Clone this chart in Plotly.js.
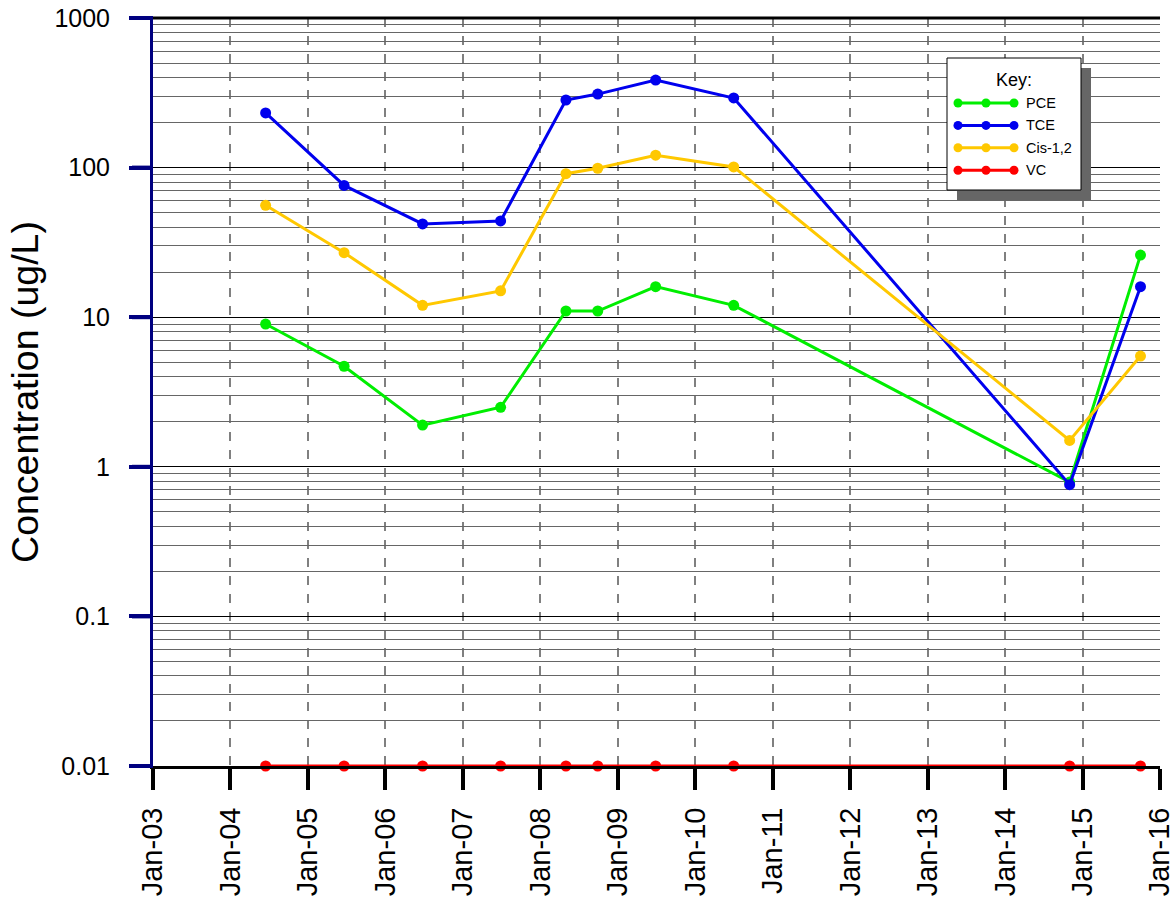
<!DOCTYPE html>
<html>
<head>
<meta charset="utf-8">
<script src="https://cdn.plot.ly/plotly-3.0.1.min.js"></script>
<style>html,body{margin:0;padding:0;background:#fff;}#chart{width:1175px;height:905px;}</style>
</head>
<body>
<div id="chart"></div>
<script>
const dates = ['2004-06-15','2005-06-20','2006-06-25','2007-06-28','2008-05-01','2008-09-28','2009-06-28','2010-07-01','2014-11-01','2015-10-01'];
const pce  = [9.0, 4.7, 1.9, 2.5, 11, 11, 16, 12, 0.79, 26];
const tce  = [232, 76, 42, 44, 283, 310, 385, 292, 0.76, 16];
const cis  = [56, 27, 12, 15, 91, 99, 121, 101, 1.5, 5.5];
const vc   = [0.01, 0.01, 0.01, 0.01, 0.01, 0.01, 0.01, 0.01, 0.01, 0.01];
const seriesNames = ['PCE','TCE','Cis-1,2','VC'];
const seriesColors = ['#00ee00','#0000ee','#ffc800','#ff0000'];
const yTickVals = [0.01, 0.1, 1, 10, 100, 1000];
const yTickText = ['0.01','0.1','1','10','100','1000'];
const legendTitle = 'Key:';

const FONT = 'Arial, "Liberation Sans", sans-serif';
const W = 1175, H = 905, ML = 153, MR = 15, MT = 18, MB = 139;
const PW = W - ML - MR, PH = H - MT - MB;
const px = X => (X - ML) / PW;          // page pixel -> paper x
const py = Y => (H - MB - Y) / PH;      // page pixel -> paper y

const allSeries = [pce, tce, cis, vc];
const traces = allSeries.map((ys, i) => ({
  x: dates, y: ys, name: seriesNames[i], type: 'scatter', mode: 'lines+markers',
  line: {color: seriesColors[i], width: 3},
  marker: {color: seriesColors[i], size: 11},
  cliponaxis: false, showlegend: false
}));

const minorVals = [];
for (let e = -2; e < 3; e++) for (let m = 2; m <= 9; m++) minorVals.push(m * Math.pow(10, e));
traces.unshift({x: [dates[0]], y: [1], yaxis: 'y2', type: 'scatter', mode: 'markers',
  marker: {opacity: 0}, showlegend: false, hoverinfo: 'skip'});

const shapes = [];
const annotations = [];

// top border
shapes.push({type: 'line', xref: 'paper', yref: 'paper', x0: 0, x1: 1, y0: 1, y1: 1,
  line: {color: '#000', width: 3}, layer: 'above'});
// navy y ticks
yTickVals.forEach(v => {
  const yy = (Math.log10(v) + 2) / 5;
  shapes.push({type: 'line', xref: 'paper', yref: 'paper', x0: px(132), x1: 0, y0: yy, y1: yy,
    line: {color: '#000080', width: 4}, layer: 'above'});
});

// key box (shadow + box)
shapes.push({type: 'rect', xref: 'paper', yref: 'paper', layer: 'above',
  x0: px(957), x1: px(1091), y0: py(200), y1: py(68), fillcolor: '#666', line: {width: 0}});
shapes.push({type: 'rect', xref: 'paper', yref: 'paper', layer: 'above',
  x0: px(947), x1: px(1081), y0: py(190), y1: py(58), fillcolor: '#fff', line: {color: '#000', width: 1}});
annotations.push({xref: 'paper', yref: 'paper', x: px(1014), y: py(80), text: legendTitle,
  showarrow: false, xanchor: 'center', yanchor: 'middle', font: {size: 18, family: FONT, color: '#000'}});
seriesNames.forEach((nm, i) => {
  const Y = 103 + i * 22.4;
  shapes.push({type: 'line', xref: 'paper', yref: 'paper', layer: 'above',
    x0: px(958), x1: px(1014), y0: py(Y), y1: py(Y), line: {color: seriesColors[i], width: 3}});
  [958, 986, 1014].forEach(X => {
    shapes.push({type: 'circle', xref: 'paper', yref: 'paper', layer: 'above',
      xsizemode: 'pixel', ysizemode: 'pixel', xanchor: px(X), yanchor: py(Y),
      x0: -4.5, x1: 4.5, y0: -4.5, y1: 4.5, fillcolor: seriesColors[i], line: {width: 0}});
  });
  annotations.push({xref: 'paper', yref: 'paper', x: px(1024), y: py(Y), text: nm,
    showarrow: false, xanchor: 'left', yanchor: 'middle', font: {size: 14.5, family: FONT, color: '#000'}});
});

const layout = {
  width: W, height: H,
  margin: {l: ML, r: MR, t: MT, b: MB},
  paper_bgcolor: '#fff', plot_bgcolor: '#fff',
  font: {family: FONT, color: '#000'},
  showlegend: false,
  xaxis: {
    type: 'date', range: ['2003-01-01', '2016-01-01'],
    tick0: '2003-01-01', dtick: 'M12', tickformat: '%b-%y', tickangle: -90,
    tickfont: {size: 29, family: FONT},
    ticks: 'outside', ticklen: 21, tickwidth: 4, tickcolor: '#000',
    ticklabelstandoff: 6, ticklabeloverflow: 'allow',
    showgrid: true, gridcolor: '#808080', gridwidth: 2, griddash: 'dash',
    showline: true, linecolor: '#000', linewidth: 3,
    zeroline: false
  },
  yaxis: {
    type: 'log', range: [-2, 3],
    tickvals: yTickVals, ticktext: yTickText,
    tickfont: {size: 25, family: FONT},
    ticks: 'outside', ticklen: 21, tickwidth: 4, tickcolor: '#000080',
    ticklabelstandoff: 14,
    showgrid: true, gridcolor: '#000', gridwidth: 1,
    showline: true, linecolor: '#000080', linewidth: 3,
    title: {text: 'Concentration (ug/L)', font: {size: 37.5, family: FONT}, standoff: 5},
    zeroline: false
  },
  yaxis2: {
    type: 'log', range: [-2, 3], overlaying: 'y',
    tickvals: minorVals, showticklabels: false, ticks: '',
    showgrid: true, gridcolor: '#666', gridwidth: 1, showline: false, zeroline: false
  },
  shapes: shapes,
  annotations: annotations
};

Plotly.newPlot('chart', traces, layout, {displayModeBar: false, staticPlot: true});
</script>
</body>
</html>
